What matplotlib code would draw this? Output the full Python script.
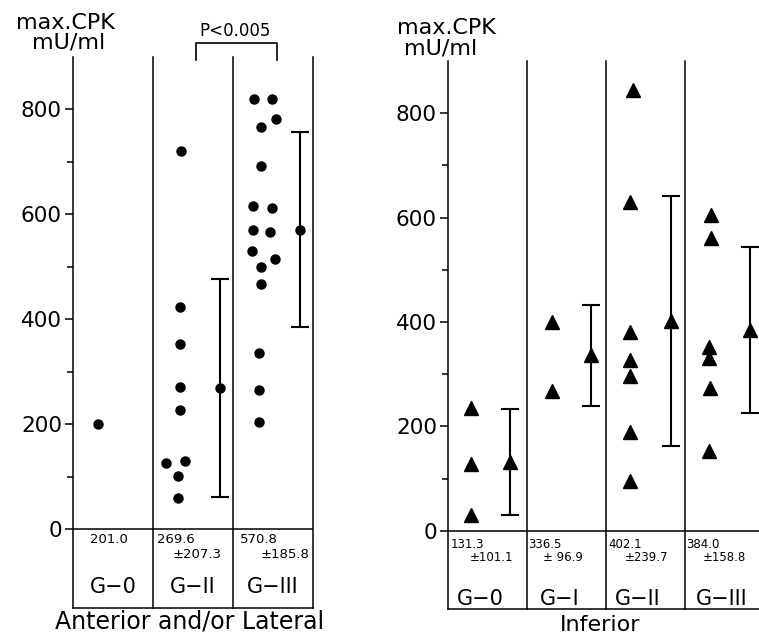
import matplotlib
matplotlib.use('Agg')
import matplotlib.pyplot as plt
from matplotlib.ticker import FixedLocator

# ---------------- data ----------------
ant_groups = ['G−0', 'G−II', 'G−III']
ant_values = [
    [201],
    [720, 423, 353, 272, 228, 126, 131, 102, 60],
    [820, 820, 781, 766, 692, 617, 612, 571, 566, 531, 515, 500, 468, 335, 265, 205],
]
ant_mean = [201.0, 269.6, 570.8]
ant_sd = [None, 207.3, 185.8]

inf_groups = ['G−0', 'G−I', 'G−II', 'G−III']
inf_values = [
    [235, 128, 31],
    [400, 268],
    [845, 630, 381, 327, 296, 189, 95],
    [605, 560, 352, 331, 273, 152],
]
inf_mean = [131.3, 336.5, 402.1, 384.0]
inf_sd = [101.1, 96.9, 239.7, 158.8]

# horizontal scatter offsets inside each column (layout only)
ant_offsets = [
    [0.31],
    [0.35, 0.34, 0.34, 0.34, 0.34, 0.16, 0.40, 0.31, 0.31],
    [0.26, 0.49, 0.54, 0.35, 0.35, 0.25, 0.49, 0.25, 0.46, 0.24, 0.52, 0.35, 0.35, 0.33, 0.33, 0.33],
]
inf_offsets = [
    [0.29, 0.29, 0.29],
    [0.32, 0.32],
    [0.34, 0.31, 0.31, 0.31, 0.31, 0.31, 0.31],
    [0.33, 0.33, 0.31, 0.31, 0.32, 0.31],
]

W, H = 759, 634
fig = plt.figure(figsize=(W / 100, H / 100), dpi=100)
fig.patch.set_facecolor('white')
plt.rcParams['font.family'] = ['DejaVu Sans']

LW = 1.1


def make_ax(l, r, t, b):
    return fig.add_axes([l / W, 1 - b / H, (r - l) / W, (b - t) / H])


def style_ax(ax, ncol, draw_right):
    ax.set_ylim(-150, 900)
    ax.set_xlim(0, ncol)
    for s in ['top', 'right']:
        ax.spines[s].set_visible(False)
    ax.spines['left'].set_linewidth(LW)
    ax.spines['bottom'].set_linewidth(LW)
    ax.yaxis.set_major_locator(FixedLocator([0, 200, 400, 600, 800]))
    ax.yaxis.set_minor_locator(FixedLocator([100, 300, 500, 700]))
    ax.tick_params(axis='y', which='major', length=6, width=LW, labelsize=15.5, pad=2)
    ax.tick_params(axis='y', which='minor', length=4, width=LW)
    ax.set_xticks([])
    ax.axhline(0, color='black', lw=LW)
    last = ncol + 1 if draw_right else ncol
    for i in range(1, last):
        ax.axvline(i, color='black', lw=LW, clip_on=False)


# ---------------- left panel ----------------
axL = make_ax(73, 313, 57, 608)
style_ax(axL, 3, True)
for i, (vals, offs) in enumerate(zip(ant_values, ant_offsets)):
    axL.plot([i + o for o in offs], vals, 'o', color='black', ms=6.5, clip_on=False)
for i in range(1, 3):
    axL.errorbar([i + 0.84], [ant_mean[i]], yerr=[ant_sd[i]], fmt='o', color='black',
                 ms=6.5, capsize=6.5, elinewidth=1.5, capthick=1.5)

axL.text(0.21, -19, f'{ant_mean[0]:.1f}', fontsize=9.5, va='center', ha='left')
for i in range(1, 3):
    axL.text(i + [0, 0.05, 0.09][i], -19, f'{ant_mean[i]:.1f}', fontsize=9.5, va='center', ha='left')
    axL.text(i + [0, 0.24, 0.35][i], -48, f'±{ant_sd[i]:.1f}', fontsize=9.5, va='center', ha='left')
for i, g in enumerate(ant_groups):
    axL.text(i + 0.5, -110, g, fontsize=15, ha='center', va='center')
axL.text(1.46, -175, 'Anterior and/or Lateral', fontsize=17, ha='center', va='center', clip_on=False)

# significance bracket between G-II and G-III
axL.plot([1.54, 1.54, 2.55, 2.55], [894, 927, 927, 894], color='black', lw=1.2, clip_on=False)
axL.text(2.03, 950, 'P<0.005', fontsize=12, ha='center', va='center')

fig.text(65 / W, 1 - 23 / H, 'max.CPK', fontsize=16, ha='center', va='center')
fig.text(69 / W, 1 - 43 / H, 'mU/ml', fontsize=16, ha='center', va='center')

# ---------------- right panel ----------------
axR = make_ax(448, 764, 61, 609)
style_ax(axR, 4, False)
for i, (vals, offs) in enumerate(zip(inf_values, inf_offsets)):
    axR.plot([i + o for o in offs], vals, '^', color='black', ms=10.5, clip_on=False)
mean_off = [0.78, 0.81, 0.82, 0.82]
for i in range(4):
    axR.errorbar([i + mean_off[i]], [inf_mean[i]], yerr=[inf_sd[i]], fmt='^', color='black',
                 ms=10.5, capsize=6.5, elinewidth=1.5, capthick=1.5)

mean_tx = [0.03, 0.02, 0.03, 0.01]
sd_tx = [0.28, 0.20, 0.24, 0.23]
for i in range(4):
    axR.text(i + mean_tx[i], -27, f'{inf_mean[i]:.1f}', fontsize=8.5, va='center', ha='left')
    sd_txt = f'± {inf_sd[i]:.1f}' if inf_sd[i] < 100 else f'±{inf_sd[i]:.1f}'
    axR.text(i + sd_tx[i], -52, sd_txt, fontsize=8.5, va='center', ha='left')
gx = [0.41, 0.42, 0.40, 0.47]
for i, g in enumerate(inf_groups):
    axR.text(i + gx[i], -130, g, fontsize=15, ha='center', va='center')
axR.text(1.92, -181, 'Inferior', fontsize=16, ha='center', va='center', clip_on=False)

fig.text(446 / W, 1 - 28 / H, 'max.CPK', fontsize=16, ha='center', va='center')
fig.text(441 / W, 1 - 49 / H, 'mU/ml', fontsize=16, ha='center', va='center')

fig.savefig('out.png', dpi=100)
